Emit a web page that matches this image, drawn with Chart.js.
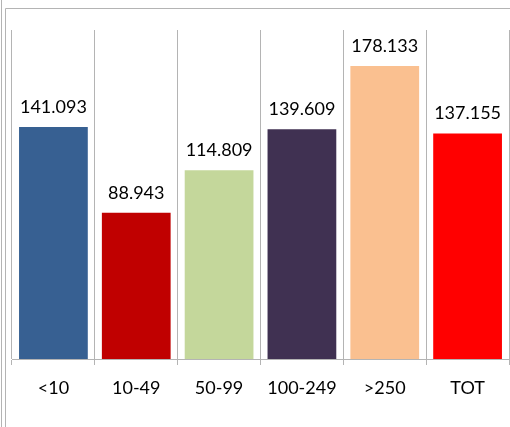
<!DOCTYPE html>
<html>
<head>
<meta charset="utf-8">
<script src="https://cdn.jsdelivr.net/npm/chart.js@4"></script>
<style>
html,body{margin:0;padding:0;background:#fff;overflow:hidden;}
#wrap{position:relative;width:510px;height:427px;}
</style>
</head>
<body>
<div id="wrap"><canvas id="c" width="510" height="427"></canvas></div>
<script>
const categories = ["<10", "10-49", "50-99", "100-249", ">250", "TOT"];
const values = [141.093, 88.943, 114.809, 139.609, 178.133, 137.155];
const valueLabels = ["141.093", "88.943", "114.809", "139.609", "178.133", "137.155"];
const barColors = ["#376092", "#C00000", "#C4D79B", "#403152", "#FAC090", "#FF0000"];
const yMin = 0, yMax = 200;

const FONT = "Lato, 'Liberation Sans', sans-serif";

const framePlugin = {
  id: 'frame',
  beforeDraw(chart) {
    const ctx = chart.ctx;
    ctx.save();
    ctx.strokeStyle = '#b4b4b4';
    ctx.lineWidth = 1;
    ctx.beginPath();
    ctx.moveTo(1.5, 0); ctx.lineTo(1.5, 427);
    ctx.moveTo(5.5, 8.5); ctx.lineTo(5.5, 427);
    ctx.moveTo(5.5, 8.5); ctx.lineTo(510, 8.5);
    ctx.stroke();
    ctx.restore();
  }
};

const labelPlugin = {
  id: 'vlabels',
  afterDatasetsDraw(chart) {
    const ctx = chart.ctx;
    const meta = chart.getDatasetMeta(0);
    ctx.save();
    ctx.fillStyle = '#000';
    ctx.font = '18px ' + FONT;
    ctx.textAlign = 'center';
    ctx.textBaseline = 'alphabetic';
    meta.data.forEach((bar, i) => {
      ctx.fillText(valueLabels[i], bar.x, bar.y - 14);
    });
    ctx.restore();
  }
};

new Chart(document.getElementById('c'), {
  type: 'bar',
  data: {
    labels: categories,
    datasets: [{
      data: values,
      backgroundColor: barColors,
      borderWidth: 0,
      barPercentage: 0.83,
      categoryPercentage: 1.0
    }]
  },
  options: {
    responsive: false,
    animation: false,
    events: [],
    layout: { padding: { left: 12, right: 1, top: 30, bottom: 0 } },
    plugins: { legend: { display: false }, tooltip: { enabled: false } },
    scales: {
      y: { display: false, min: yMin, max: yMax },
      x: {
        offset: true,
        afterFit(scale) { scale.height = 68; },
        grid: { display: true, offset: true, color: '#b4b4b4', lineWidth: 1, drawTicks: true, tickLength: 6 },
        border: { display: true, color: '#b4b4b4', width: 1 },
        ticks: { color: '#000', font: { family: FONT, size: 18 }, padding: 12, maxRotation: 0 }
      }
    }
  },
  plugins: [framePlugin, labelPlugin]
});
</script>
</body>
</html>
